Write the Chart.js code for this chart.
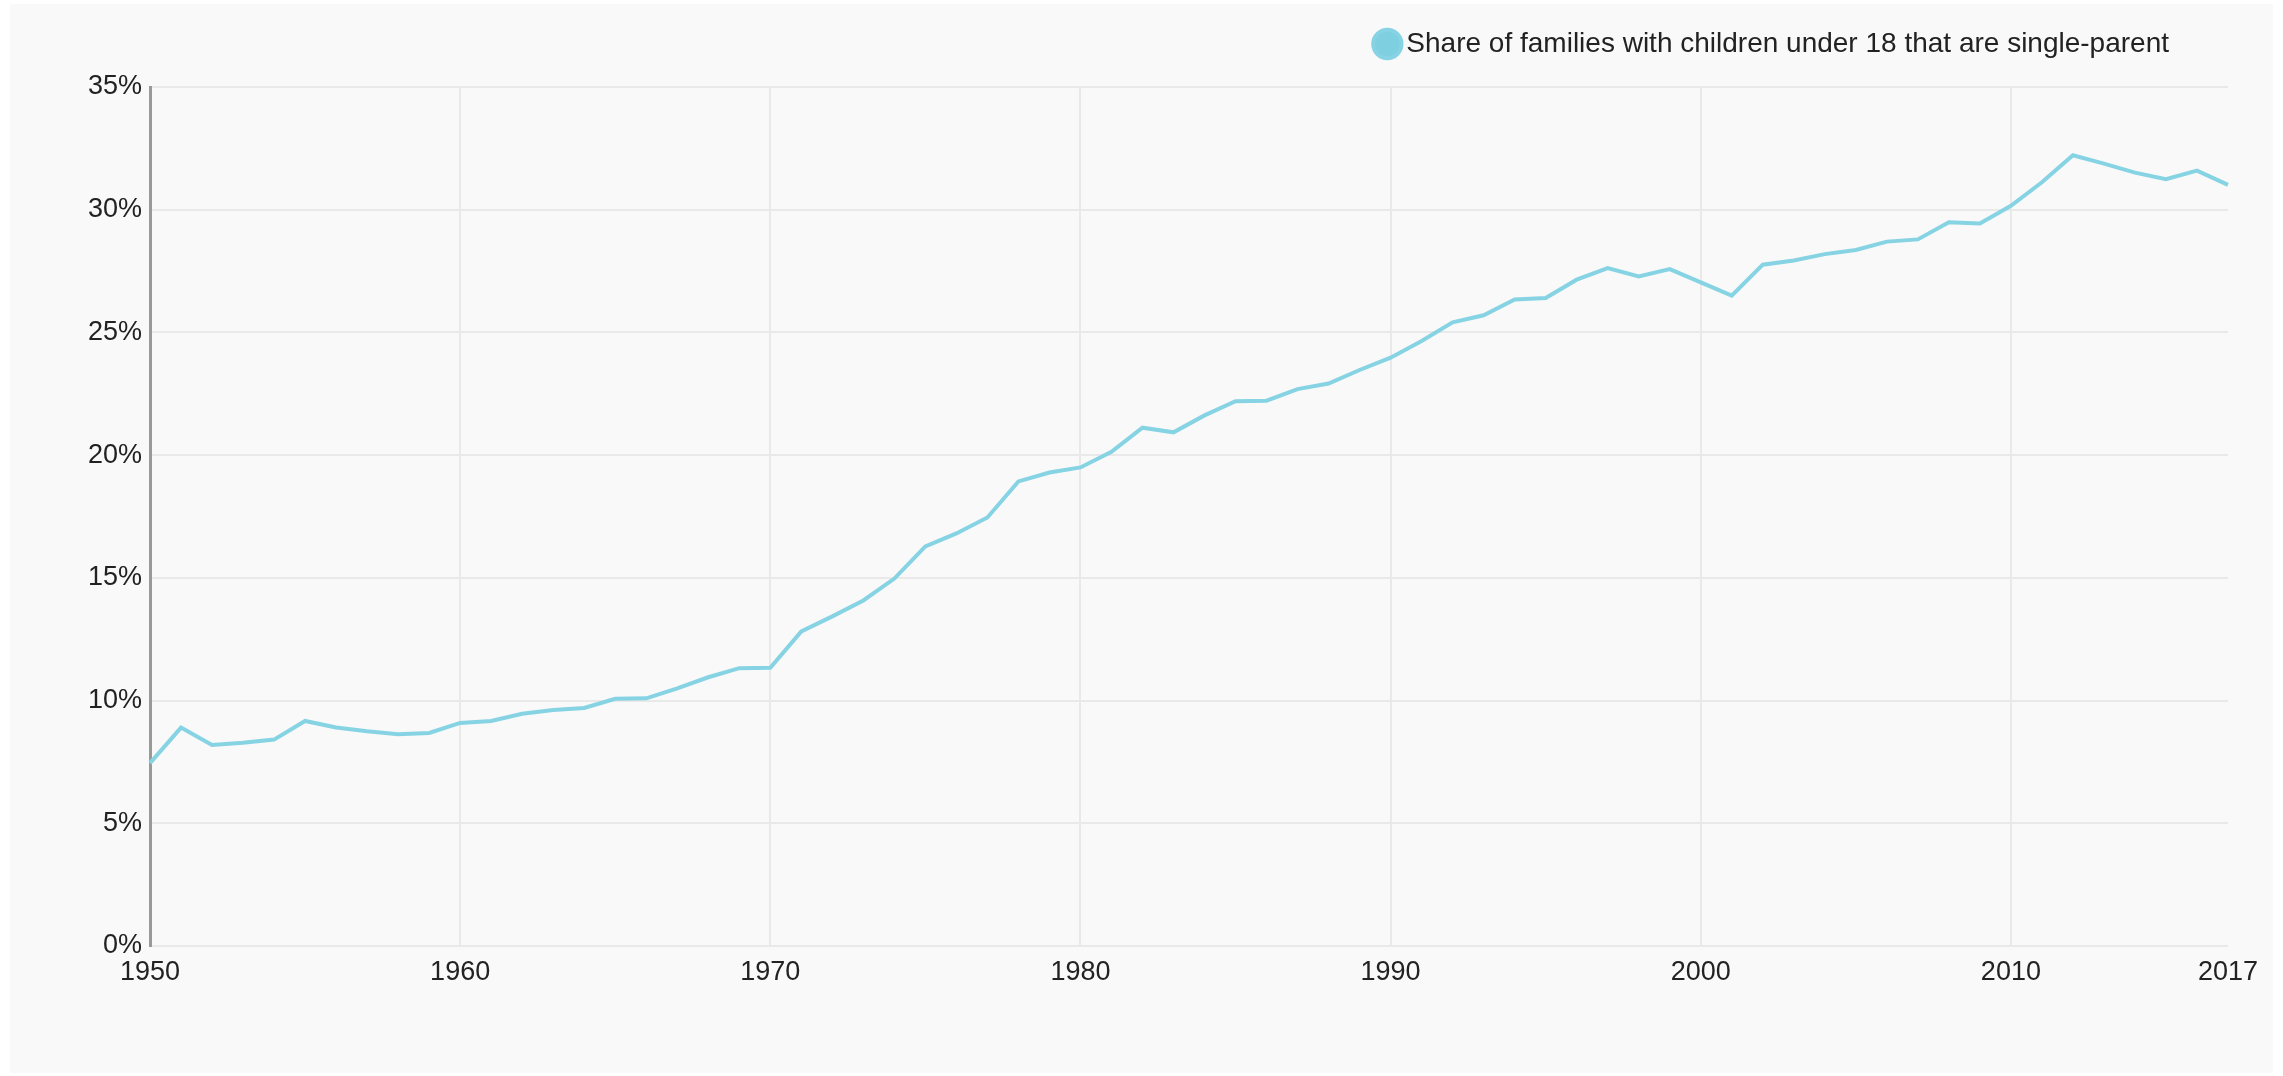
<!DOCTYPE html>
<html>
<head>
<meta charset="utf-8">
<script src="https://cdn.jsdelivr.net/npm/chart.js@4/dist/chart.umd.min.js"></script>
<style>
    body { margin: 0; background: #fff; }
    #panel { position: absolute; left: 10px; top: 4px; width: 2263px; height: 1069px; background: #f9f9f9; }
    #grafico { position: absolute; left: 0; top: 0; }
</style>
</head>
<body>
<div id="panel"></div>
<canvas id="grafico" width="2283" height="1076"></canvas>
<script>
const years = [
    1950, 1951, 1952, 1953, 1954, 1955, 1956, 1957, 1958, 1959,
    1960, 1961, 1962, 1963, 1964, 1965, 1966, 1967, 1968, 1969,
    1970, 1971, 1972, 1973, 1974, 1975, 1976, 1977, 1978, 1979,
    1980, 1981, 1982, 1983, 1984, 1985, 1986, 1987, 1988, 1989,
    1990, 1991, 1992, 1993, 1994, 1995, 1996, 1997, 1998, 1999,
    2000, 2001, 2002, 2003, 2004, 2005, 2006, 2007, 2008, 2009,
    2010, 2011, 2012, 2013, 2014, 2015, 2016, 2017
];

// % of families with children under 18 that are single-parent
const shares = [
    7.45, 8.9, 8.19, 8.28, 8.41, 9.17, 8.9, 8.75, 8.63, 8.68,
    9.09, 9.17, 9.46, 9.62, 9.7, 10.07, 10.09, 10.5, 10.95, 11.32,
    11.34, 12.82, 13.43, 14.08, 14.97, 16.28, 16.81, 17.46, 18.93, 19.29,
    19.5, 20.14, 21.12, 20.93, 21.62, 22.2, 22.22, 22.69, 22.92, 23.47,
    23.97, 24.65, 25.41, 25.7, 26.34, 26.4, 27.15, 27.62, 27.28, 27.58,
    27.04, 26.5, 27.76, 27.93, 28.19, 28.36, 28.7, 28.79, 29.49, 29.44,
    30.16, 31.12, 32.22, 31.88, 31.51, 31.24, 31.59, 31.01
];

const tickYears = [1950, 1960, 1970, 1980, 1990, 2000, 2010, 2017];
const serieNombre = 'Share of families with children under 18 that are single-parent';

const fuente = "'Liberation Sans', Arial, sans-serif";

// mueve la leyenda arriba a la derecha como en el original
const ajusteLeyenda = {
    id: 'ajusteLeyenda',
    afterLayout(chart) {
        const lg = chart.legend;
        lg.top -= 19;
        lg.bottom -= 19;
        lg.right -= 49;
    }
};

new Chart(document.getElementById('grafico'), {
    type: 'line',
    data: {
        labels: years.map(String),
        datasets: [{
            label: serieNombre,
            data: shares,
            borderColor: '#86d3e4',
            backgroundColor: '#7ecfe0',
            borderWidth: 4,
            pointRadius: 0,
            tension: 0
        }]
    },
    options: {
        responsive: false,
        animation: false,
        layout: {
            padding: { left: 10, right: 55, top: 39, bottom: 80 }
        },
        plugins: {
            tooltip: { enabled: false },
            legend: {
                position: 'top',
                align: 'end',
                labels: {
                    usePointStyle: true,
                    pointStyle: 'circle',
                    boxWidth: 10,
                    boxHeight: 20,
                    color: '#222',
                    font: { family: fuente, size: 28 }
                }
            }
        },
        scales: {
            x: {
                type: 'category',
                offset: false,
                border: { display: false },
                grid: {
                    drawTicks: false,
                    lineWidth: 2,
                    color: (ctx) => (ctx.tick && ctx.tick.label === '2017') ? 'rgba(0,0,0,0)' : '#e9e9e9'
                },
                ticks: {
                    autoSkip: false,
                    maxRotation: 0,
                    padding: 10,
                    color: '#222',
                    font: { family: fuente, size: 27 },
                    callback: (value, index) => tickYears.includes(years[index]) ? String(years[index]) : null
                },
                afterFit: (scale) => { scale.height = 50; }
            },
            y: {
                min: 0,
                max: 35,
                border: { display: true, color: '#999', width: 3 },
                grid: {
                    drawTicks: false,
                    lineWidth: 2,
                    color: '#e9e9e9'
                },
                ticks: {
                    stepSize: 5,
                    padding: 8,
                    color: '#222',
                    font: { family: fuente, size: 27 },
                    callback: (v) => v + '%'
                },
                afterFit: (scale) => { scale.width = 140; }
            }
        }
    },
    plugins: [ajusteLeyenda]
});
</script>
</body>
</html>
